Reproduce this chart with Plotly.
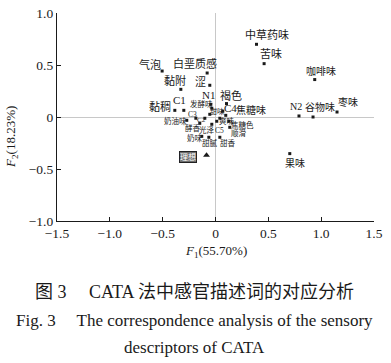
import plotly.graph_objects as go

# ---- data ----
descriptors = ["中草药味", "苦味", "咖啡味", "N2", "谷物味", "枣味", "果味",
               "气泡", "白垩质感", "黏附", "涩", "N1", "褐色", "C4", "焦糖味",
               "发酵味", "甜味", "C3", "奶油味", "C2", "酵香", "光泽", "C5",
               "爽味", "焦糖色", "顺滑", "奶味", "甜腻", "甜香", "黏稠", "C1"]
f1_values = [0.388, 0.460, 0.939, 0.790, 0.923, 1.150, 0.703,
             -0.505, -0.079, -0.328, -0.054, -0.044, 0.104, 0.069, 0.097,
             -0.035, -0.054, -0.186, -0.272, -0.101, -0.149, -0.035, 0.012,
             0.041, 0.126, 0.135, -0.130, -0.063, 0.041, -0.385, -0.300]
f2_values = [0.699, 0.513, 0.360, 0.010, 0.000, 0.048, -0.352,
             0.442, 0.423, 0.266, 0.305, 0.122, 0.129, 0.055, 0.016,
             0.084, 0.026, -0.012, -0.032, -0.012, -0.061, -0.070, -0.041,
             -0.012, -0.041, -0.099, -0.186, -0.195, -0.195, 0.064, 0.064]
ideal_label = ["理想"]
ideal_f1 = [-0.085]
ideal_f2 = [-0.368]

tick_vals_x = [-1.5, -1.0, -0.5, 0, 0.5, 1.0, 1.5]
tick_text_x = ["−1.5", "−1.0", "−0.5", "0", "0.5", "1.0", "1.5"]
tick_vals_y = [-1.0, -0.5, 0, 0.5, 1.0]
tick_text_y = ["−1.0", "−0.5", "0", "0.5", "1.0"]

# ---- label placement (pixel offsets dx, dy; dy positive = down) and sizes ----
label_dx = [10, 7, 6, -3, 7, 11, 5,
            -12, -12, -6, -9, -2, 5, 8, 25,
            -10, 7, -3, -11, -3, -7, -5, 3,
            7, 14, 9, -7, 1, 8, -15, -4]
label_dy = [-9, -10, -8, -9, -10, -10, 10,
            -7, -10, -9, -3, -9, -8, -3, -5,
            -4, -3, -4, 1, 2, 5, 6, 9,
            3, 4, 6, 2, 6, 6, -4, -10]
label_size = [11, 11, 10, 10, 10, 10, 10,
              11, 11, 11, 11, 11, 11, 11, 10,
              7.5, 7, 7.5, 7.5, 7, 7.5, 7.5, 7.5,
              7.5, 7.5, 7.5, 7.5, 7.5, 7.5, 11, 11]

FONT = "Liberation Serif, Noto Sans CJK SC, serif"
INK = "#1a1a1a"

fig = go.Figure()
fig.add_trace(go.Scatter(
    x=f1_values, y=f2_values, mode="markers",
    marker=dict(symbol="square", size=3, color=INK),
    hoverinfo="text", text=descriptors, showlegend=False))
fig.add_trace(go.Scatter(
    x=ideal_f1, y=ideal_f2, mode="markers",
    marker=dict(symbol="triangle-up", size=6, color=INK),
    hoverinfo="text", text=ideal_label, showlegend=False))

annotations = []
for name, xv, yv, dx, dy, sz in zip(descriptors, f1_values, f2_values,
                                     label_dx, label_dy, label_size):
    annotations.append(dict(x=xv, y=yv, xref="x", yref="y", text=name,
                            xanchor="center", yanchor="middle",
                            showarrow=False, xshift=dx, yshift=-dy,
                            font=dict(family=FONT, size=sz, color=INK)))
annotations.append(dict(x=ideal_f1[0], y=ideal_f2[0], xref="x", yref="y",
                        text=ideal_label[0], showarrow=False, xshift=-19, yshift=-2,
                        xanchor="center", yanchor="middle",
                        bgcolor="#6e6e6e", bordercolor="#222", borderwidth=1, borderpad=0,
                        font=dict(family=FONT, size=8, color="white")))

def paper_note(text, x, y, size, angle=0):
    return dict(x=x, y=y, xref="paper", yref="paper", text=text, showarrow=False,
                xanchor="center", yanchor="middle", textangle=angle,
                font=dict(family=FONT, size=size, color=INK))

# axis titles
annotations.append(paper_note("<i>F</i><sub>1</sub>(55.70%)", 0.5, -0.145, 13))
annotations.append(paper_note("<i>F</i><sub>2</sub>(18.23%)", -0.142, 0.404, 13, -90))
# caption
annotations.append(paper_note("图 3\u3000 CATA 法中感官描述词的对应分析", 0.435, -0.341, 18))
annotations.append(paper_note("Fig. 3\u2003 The correspondence analysis of the sensory",
                              0.435, -0.476, 17))
annotations.append(paper_note("descriptors of CATA", 0.435, -0.606, 17))

axis_common = dict(showgrid=False, showline=True, linecolor=INK, linewidth=1.3,
                   ticks="inside", ticklen=4, tickwidth=1.3, tickcolor=INK,
                   zeroline=True, zerolinecolor="#c8c8c8", zerolinewidth=1,
                   automargin=False,
                   tickfont=dict(family=FONT, size=13.5, color=INK))

fig.update_layout(
    width=391, height=363,
    margin=dict(l=57, r=17, t=13, b=142),
    paper_bgcolor="white", plot_bgcolor="white",
    xaxis=dict(range=[-1.5, 1.5], tickvals=tick_vals_x, ticktext=tick_text_x, **axis_common),
    yaxis=dict(range=[-1.0, 1.0], tickvals=tick_vals_y, ticktext=tick_text_y, **axis_common),
    annotations=annotations,
)

fig.write_html("out.html", config={"displayModeBar": False},
               post_script="document.body.style.margin='0';")
